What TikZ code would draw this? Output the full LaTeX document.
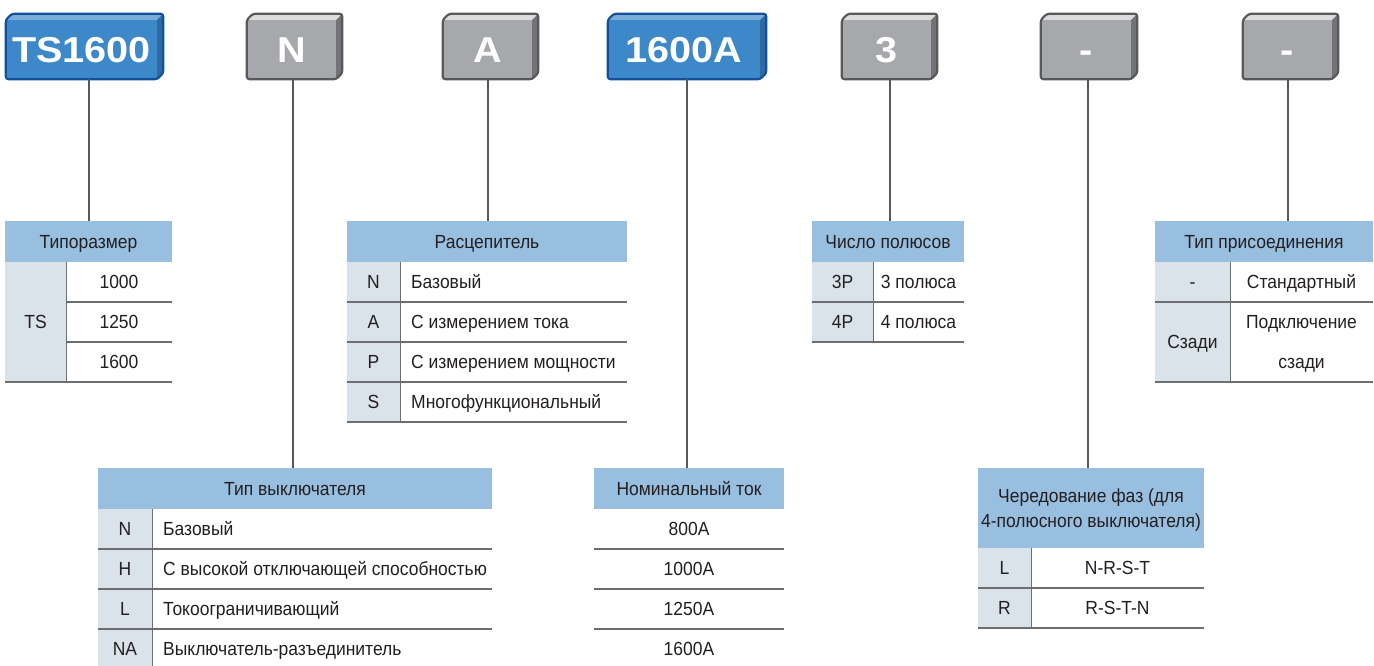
\documentclass[tikz,border=0pt]{standalone}
\usepackage{fontspec}
\setmainfont{Liberation Sans}[FakeStretch=0.92]
\newfontfamily\boxfont{Liberation Sans}[FakeStretch=1.1]
\newcommand\tabtxt{\fontsize{19}{25}\selectfont}
\definecolor{cubeBfront}{HTML}{3D88C9}
\definecolor{cubeBtop}{HTML}{7AABD9}
\definecolor{cubeBside}{HTML}{2C6AA3}
\definecolor{cubeBborder}{HTML}{12519A}
\definecolor{cubeGfront}{HTML}{A7A8AB}
\definecolor{cubeGtop}{HTML}{DCDCDD}
\definecolor{cubeGside}{HTML}{727376}
\definecolor{cubeGborder}{HTML}{58595B}
\definecolor{hdrC}{HTML}{98BFE0}
\definecolor{keyC}{HTML}{DAE2EA}
\definecolor{txtC}{HTML}{231F20}
\definecolor{lineC}{HTML}{58595B}
\definecolor{ruleC}{HTML}{6D6E71}
\newcommand\cubefaces[4]{%
  \fill[#2] (#1.north west) -- ++(6,-6) -- ([shift={(6pt,6pt)}]#1.north east) -- (#1.north east) -- cycle;
  \fill[#3] (#1.north east) -- ([shift={(6pt,6pt)}]#1.north east) -- ([shift={(6pt,6pt)}]#1.south east) -- (#1.south east) -- cycle;
  \draw[#4, line width=2.2, rounded corners=2.5, line join=round] (#1.south west) -- (#1.north west) -- ++(6,-6) -- ([shift={(6pt,6pt)}]#1.north east) -- ([shift={(6pt,6pt)}]#1.south east) -- (#1.south east) -- cycle;
}
\tikzset{
  cubebase/.style={inner sep=0, minimum height=59, text=white,
    font=\boxfont\bfseries\fontsize{36}{36}\selectfont, text height=26, text depth=0},
  cubeB/.style={cubebase, fill=cubeBfront, minimum width=151},
  cubeG/.style={cubebase, fill=cubeGfront, minimum width=89},
  conn/.style={draw=lineC, line width=1.3},
  rule/.style={draw=ruleC, line width=1.3},
  cell/.style={inner sep=0, text=txtC, font=\tabtxt, text height=13.6, text depth=0},
  hdr/.style={cell, fill=hdrC, minimum height=41},
  keyc/.style={cell, fill=keyC},
}
\begin{document}
\begin{tikzpicture}[x=1pt, y=-1pt]
\useasboundingbox (0,0) rectangle (1374,666);

% ---------- code boxes ----------
\node[cubeB] (bTS) at (81.5,49.5) {TS1600};
\cubefaces{bTS}{cubeBtop}{cubeBside}{cubeBborder}
\node[cubeG] (bN) at (291.5,49.5) {N};
\cubefaces{bN}{cubeGtop}{cubeGside}{cubeGborder}
\node[cubeG] (bA) at (487.5,49.5) {A};
\cubefaces{bA}{cubeGtop}{cubeGside}{cubeGborder}
\node[cubeB, minimum width=152] (bI) at (684,49.5) {1600A};
\cubefaces{bI}{cubeBtop}{cubeBside}{cubeBborder}
\node[cubeG] (bP) at (886.5,49.5) {3};
\cubefaces{bP}{cubeGtop}{cubeGside}{cubeGborder}
\node[cubeG, minimum width=90] (bF) at (1086,49.5) {-};
\cubefaces{bF}{cubeGtop}{cubeGside}{cubeGborder}
\node[cubeG] (bC) at (1287.5,49.5) {-};
\cubefaces{bC}{cubeGtop}{cubeGside}{cubeGborder}

% ---------- Типоразмер ----------
\node[hdr, minimum width=167] (hTS) at (88.5,241.5) {Типоразмер};
\node[keyc, minimum width=61, minimum height=120] (kTS) at (35.5,322) {TS};
\node[cell] at (119,282) {1000};
\node[cell] at (119,322) {1250};
\node[cell] at (119,362) {1600};
\draw[rule] (66,302) -- (172,302);
\draw[rule] (66,342) -- (172,342);
\draw[rule] (5,382) -- (172,382);
\draw[rule] (kTS.north east) -- (kTS.south east);

% ---------- Расцепитель ----------
\node[hdr, minimum width=280] (hA) at (487,241.5) {Расцепитель};
\node[keyc, minimum width=53, minimum height=160] (kA) at (373.5,342) {};
\node[cell] at (373.5,282) {N};
\node[cell] at (373.5,322) {A};
\node[cell] at (373.5,362) {P};
\node[cell] at (373.5,402) {S};
\node[cell, anchor=west] at (411,282) {Базовый};
\node[cell, anchor=west] at (411,322) {С измерением тока};
\node[cell, anchor=west] at (411,362) {С измерением мощности};
\node[cell, anchor=west] at (411,402) {Многофункциональный};
\foreach \yy in {302,342,382,422} \draw[rule] (347,\yy) -- (627,\yy);
\draw[rule] (kA.north east) -- (kA.south east);

% ---------- Число полюсов ----------
\node[hdr, minimum width=152] (hP) at (888,241.5) {Число полюсов};
\node[keyc, minimum width=61, minimum height=80] (kP) at (842.5,302) {};
\node[cell] at (842.5,282) {3P};
\node[cell] at (842.5,322) {4P};
\node[cell] at (918.5,282) {3 полюса};
\node[cell] at (918.5,322) {4 полюса};
\foreach \yy in {302,342} \draw[rule] (812,\yy) -- (964,\yy);
\draw[rule] (kP.north east) -- (kP.south east);

% ---------- Тип присоединения ----------
\node[hdr, minimum width=218] (hC) at (1264,241.5) {Тип присоединения};
\node[keyc, minimum width=75, minimum height=120] (kC) at (1192.5,322) {};
\node[cell] at (1192.5,282) {-};
\node[cell] at (1192.5,342) {Сзади};
\node[cell] at (1301.5,282) {Стандартный};
\node[cell] at (1301.5,322) {Подключение};
\node[cell] at (1301.5,362) {сзади};
\foreach \yy in {302,382} \draw[rule] (1155,\yy) -- (1373,\yy);
\draw[rule] (kC.north east) -- (kC.south east);

% ---------- Тип выключателя ----------
\node[hdr, minimum width=394] (hN) at (295,488.5) {Тип выключателя};
\node[keyc, minimum width=54, minimum height=157] (kN) at (125,587.5) {};
\node[cell] at (125,529) {N};
\node[cell] at (125,569) {H};
\node[cell] at (125,609) {L};
\node[cell] at (125,649) {NA};
\node[cell, anchor=west] at (163,529) {Базовый};
\node[cell, anchor=west] at (163,569) {С высокой отключающей способностью};
\node[cell, anchor=west] at (163,609) {Токоограничивающий};
\node[cell, anchor=west] at (163,649) {Выключатель-разъединитель};
\foreach \yy in {549,589,629} \draw[rule] (98,\yy) -- (492,\yy);
\draw[rule] (kN.north east) -- (kN.south east);

% ---------- Номинальный ток ----------
\node[hdr, minimum width=190] (hI) at (689,488.5) {Номинальный ток};
\node[cell] at (689,529) {800A};
\node[cell] at (689,569) {1000A};
\node[cell] at (689,609) {1250A};
\node[cell] at (689,649) {1600A};
\foreach \yy in {549,589,629} \draw[rule] (594,\yy) -- (784,\yy);

% ---------- Чередование фаз ----------
\node[hdr, minimum width=226, minimum height=80] (hF) at (1091,508) {};
\node[cell] at (1091,495.5) {Чередование фаз (для};
\node[cell] at (1091,520.5) {4-полюсного выключателя)};
\node[keyc, minimum width=53, minimum height=80] (kF) at (1004.5,588) {};
\node[cell] at (1004.5,568) {L};
\node[cell] at (1004.5,608) {R};
\node[cell] at (1117.5,568) {N-R-S-T};
\node[cell] at (1117.5,608) {R-S-T-N};
\foreach \yy in {588,628} \draw[rule] (978,\yy) -- (1204,\yy);
\draw[rule] (kF.north east) -- (kF.south east);

% ---------- connectors ----------
\path ([xshift=7.5pt]bTS.south) coordinate (cTS);
\path ([xshift=1.5pt]bN.south) coordinate (cN);
\path ([xshift=0.5pt]bA.south) coordinate (cA);
\path ([xshift=3pt]bI.south) coordinate (cI);
\path ([xshift=3.5pt]bP.south) coordinate (cP);
\path ([xshift=2pt]bF.south) coordinate (cF);
\path ([xshift=0.5pt]bC.south) coordinate (cC);
\draw[conn] (cTS) -- (cTS |- hTS.north);
\draw[conn] (cN) -- (cN |- hN.north);
\draw[conn] (cA) -- (cA |- hA.north);
\draw[conn] (cI) -- (cI |- hI.north);
\draw[conn] (cP) -- (cP |- hP.north);
\draw[conn] (cF) -- (cF |- hF.north);
\draw[conn] (cC) -- (cC |- hC.north);
\end{tikzpicture}
\end{document}
